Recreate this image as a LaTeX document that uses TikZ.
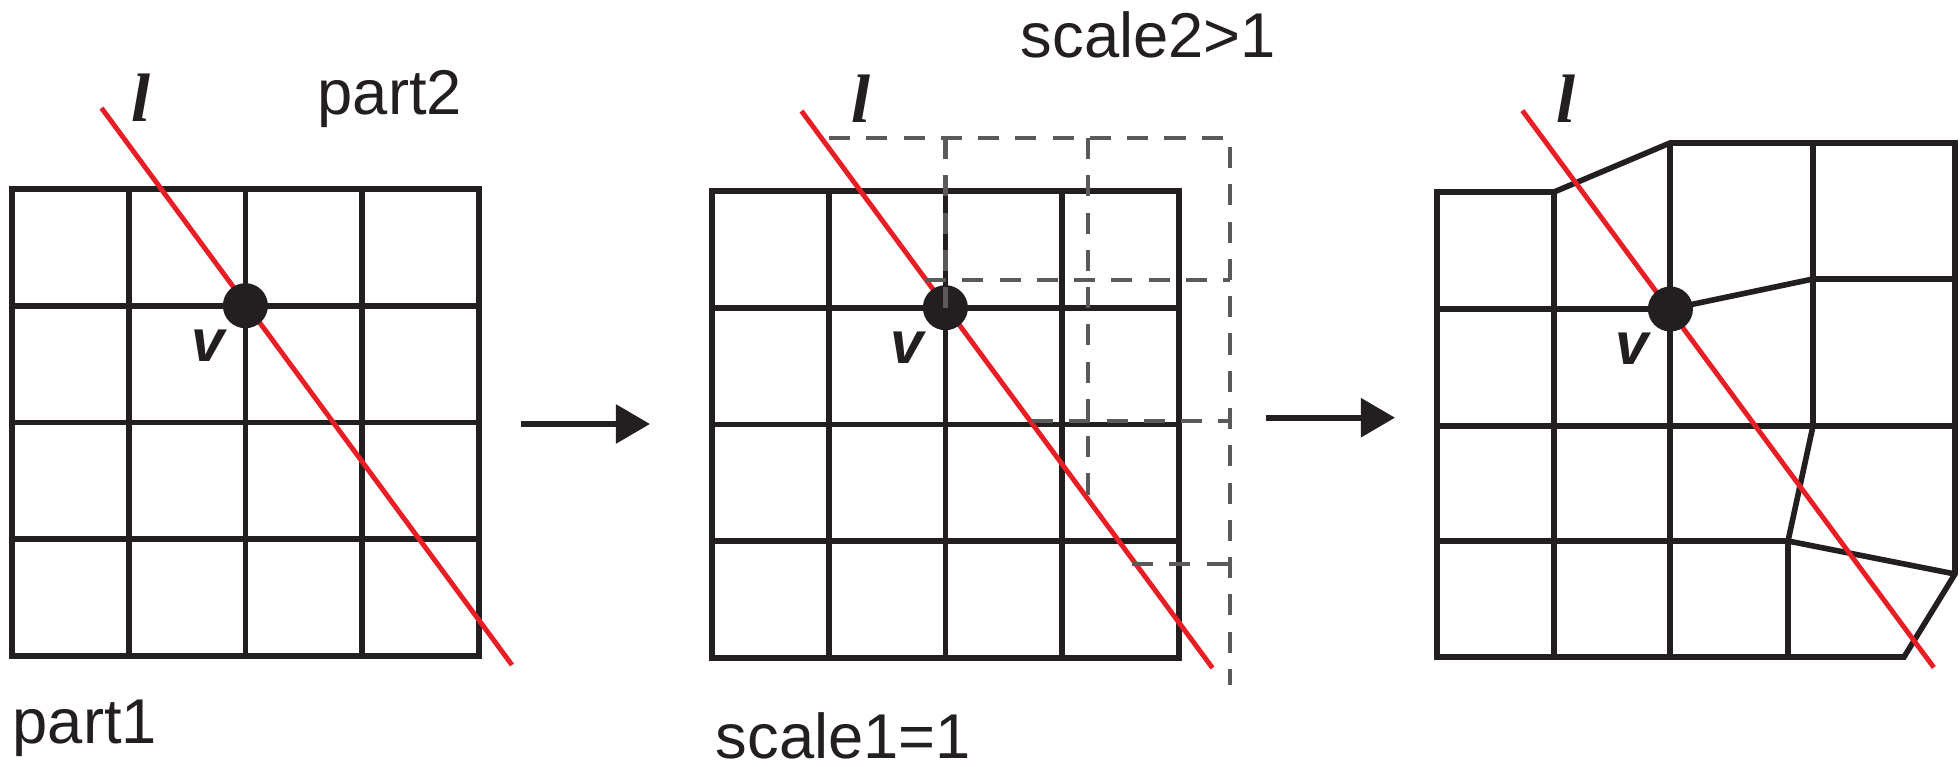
\documentclass[tikz,border=0pt]{standalone}
\usepackage{fontspec}
\setmainfont{Liberation Sans}
\newfontfamily\ellfont{Liberation Serif}
\usepackage{xcolor}
\usetikzlibrary{arrows.meta, positioning, calc}
\definecolor{inkblack}{RGB}{35,31,32}
\definecolor{linered}{RGB}{232,30,37}
\definecolor{dashgray}{RGB}{90,90,90}

\begin{document}
\begin{tikzpicture}[x=0.01cm, y=-0.01cm,
  mesh/.style={draw=inkblack, line width=1.6pt, line join=miter},
  cut/.style={draw=linered, line width=1.4pt},
  scaled/.style={draw=dashgray, line width=1.4pt, dash pattern=on 6pt off 4.6pt},
  vertex/.style={circle, fill=inkblack, minimum size=0.45cm, inner sep=0pt},
  lbl/.style={font=\fontsize{18}{20}\selectfont, inner sep=0pt, anchor=base west, text=inkblack},
  vlbl/.style={font=\fontsize{17}{19}\selectfont\bfseries\itshape, inner sep=0pt, text=inkblack},
  llbl/.style={font=\fontsize{19.5}{20}\selectfont\ellfont\bfseries\itshape, inner sep=0pt, text=inkblack},
  arr/.style={-{Triangle[length=0.34cm, width=0.38cm]}, line width=1.6pt, draw=inkblack}
]
  \useasboundingbox (0,0) rectangle (1960,767);

  % part 1 / part 2 on the regular grid
  \draw[mesh] (12,189) rectangle (479,656);
  \foreach \k in {1,2,3} {
    \draw[mesh] ({12+116.7*\k},189) -- ({12+116.7*\k},656);
    \draw[mesh] (12,{189+116.7*\k}) -- (479,{189+116.7*\k});
  }
  \coordinate (cutA1) at (101.5,108);
  \coordinate (cutA2) at (512,665);
  \draw[cut] (cutA1) -- (cutA2);
  \node[vertex] (vA) at (245.4,305.7) {};
  \node[vlbl] (vlabA) at (208,346) {v};
  \node[llbl] (lA) at (141,98) {l};
  \node[lbl] (part2) at (317,115) {part2};
  \node[lbl] (part1) at (12,743) {part1};

  \coordinate (a1s) at (520.7,424);
  \coordinate (a1e) at (650,424);
  \draw[arr] (a1s) -- (a1e);

  % scale1 grid with the larger scale2 grid on top
  \draw[mesh] (712,191) rectangle (1179,658);
  \foreach \k in {1,2,3} {
    \draw[mesh] ({712+116.7*\k},191) -- ({712+116.7*\k},658);
    \draw[mesh] (712,{191+116.7*\k}) -- (1179,{191+116.7*\k});
  }
  \coordinate (cutB1) at (801.5,111);
  \coordinate (cutB2) at (1212.5,668);
  \draw[cut] (cutB1) -- (cutB2);
  \node[vertex] (vB) at (945.4,307.7) {};
  \draw[scaled] (829,138) -- (1230,138) -- (1230,685);
  \draw[scaled] (945.4,138) -- (vB.center);
  \draw[scaled] (1088,138) -- (1088,499);
  \draw[scaled] (925,280) -- (1230,280);
  \draw[scaled] (1032,421) -- (1230,421);
  \draw[scaled] (1132,564) -- (1230,564);
  \node[vlbl] (vlabB) at (907,348) {v};
  \node[llbl] (lB) at (861,99) {l};
  \node[lbl] (scaleTwo) at (1020,58) {scale2>1};
  \node[lbl] (scaleOne) at (715,758) {scale1=1};

  \coordinate (a2s) at (1266,417.7);
  \coordinate (a2e) at (1395,417.7);
  \draw[arr] (a2s) -- (a2e);

  % merged mesh
  \draw[mesh] (1437,192) -- (1554,192) -- (1670,143) -- (1955,143) -- (1955,574)
    -- (1904,657) -- (1437,657) -- cycle;
  \draw[mesh] (1554,192) -- (1554,657);
  \draw[mesh] (1670,143) -- (1670,657);
  \draw[mesh] (1813,143) -- (1813,426) -- (1788,541) -- (1788,657);
  \draw[mesh] (1437,309) -- (1670,309) -- (1813,279) -- (1955,279);
  \draw[mesh] (1437,426) -- (1955,426);
  \draw[mesh] (1437,541) -- (1788,541) -- (1955,574);
  \coordinate (cutC1) at (1522.4,110.6);
  \coordinate (cutC2) at (1933.8,667.5);
  \draw[cut] (cutC1) -- (cutC2);
  \node[vertex] (vC) at (1670.4,309) {};
  \node[vlbl] (vlabC) at (1632,349) {v};
  \node[llbl] (lC) at (1566,99) {l};
\end{tikzpicture}
\end{document}
